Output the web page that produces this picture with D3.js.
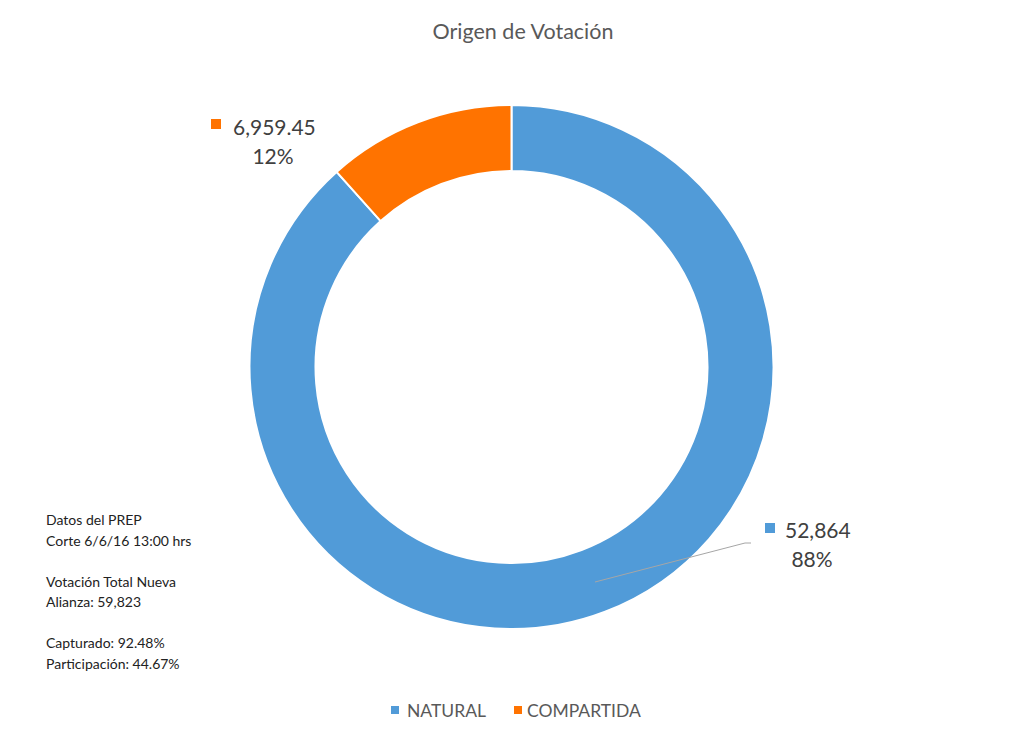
<!DOCTYPE html>
<html>
<head>
<meta charset="utf-8">
<script src="https://cdn.jsdelivr.net/npm/d3@7"></script>
<style>
  body { margin: 0; background: #fff; }
  svg { display: block; font-family: Lato, "Open Sans", sans-serif; }
</style>
</head>
<body>
<svg width="1024" height="740"></svg>
<script>
// data
const categories = ['NATURAL', 'COMPARTIDA'];
const values = [52864, 6959.45];
const valueLabels = ['52,864', '6,959.45'];
const pctLabels = ['88%', '12%'];
const colors = ['#519BD8', '#FF7300'];
const notes = ['Datos del PREP', 'Corte 6/6/16 13:00 hrs', '', 'Votación Total Nueva', 'Alianza: 59,823', '', 'Capturado: 92.48%', 'Participación: 44.67%'];

const svg = d3.select('svg');
const width = +svg.attr('width');

const cx = 511.5, cy = 367;
const outerR = 262, innerR = 196;

// title
svg.append('text')
    .attr('x', width / 2 + 11)
    .attr('y', 39)
    .attr('text-anchor', 'middle')
    .attr('font-size', 21.5)
    .attr('fill', '#595959')
    .text('Origen de Votación');

////////////// donut //////////////
const data = categories.map((c, i) => ({ cat: c, value: values[i], i: i }));
const pie = d3.pie().sort(null).value(d => d.value);
const arc = d3.arc().innerRadius(innerR).outerRadius(outerR);
const arcs = pie(data);

const g = svg.append('g').attr('transform', `translate(${cx},${cy})`);
g.selectAll('path')
    .data(arcs)
    .enter()
    .append('path')
    .attr('d', arc)
    .attr('fill', d => colors[d.data.i])
    .attr('stroke', '#fff')
    .attr('stroke-width', 2);

// leader line for NATURAL
svg.append('polyline')
    .attr('points', '595,582 745,543 751,543')
    .attr('fill', 'none')
    .attr('stroke', '#a6a6a6')
    .attr('stroke-width', 1);

// data labels
const labelPos = [
    { sq: [765, 523], tx: 785, ty: 538, px: 812, py: 567 },
    { sq: [211, 119], tx: 233, ty: 135, px: 273, py: 164 }
];
labelPos.forEach((p, i) => {
    svg.append('rect')
        .attr('x', p.sq[0]).attr('y', p.sq[1])
        .attr('width', 10).attr('height', 10)
        .attr('fill', colors[i]);
    svg.append('text')
        .attr('x', p.tx).attr('y', p.ty)
        .attr('font-size', 21)
        .attr('fill', '#404040')
        .text(valueLabels[i]);
    svg.append('text')
        .attr('x', p.px).attr('y', p.py)
        .attr('text-anchor', 'middle')
        .attr('font-size', 21)
        .attr('fill', '#404040')
        .text(pctLabels[i]);
});

// notes on the left
const notesText = svg.append('text')
    .attr('x', 46)
    .attr('font-size', 14)
    .attr('fill', '#222');
notes.forEach((n, i) => {
    notesText.append('tspan')
        .attr('x', 46)
        .attr('y', 525 + i * 20.5)
        .text(n);
});

// legend
const legendSq = [391, 514];
const legendTx = [407, 527];
categories.forEach((c, i) => {
    svg.append('rect')
        .attr('x', legendSq[i]).attr('y', 706)
        .attr('width', 8).attr('height', 8)
        .attr('fill', colors[i]);
    svg.append('text')
        .attr('x', legendTx[i]).attr('y', 717)
        .attr('font-size', 17.5)
        .attr('fill', '#595959')
        .text(c);
});
</script>
</body>
</html>
